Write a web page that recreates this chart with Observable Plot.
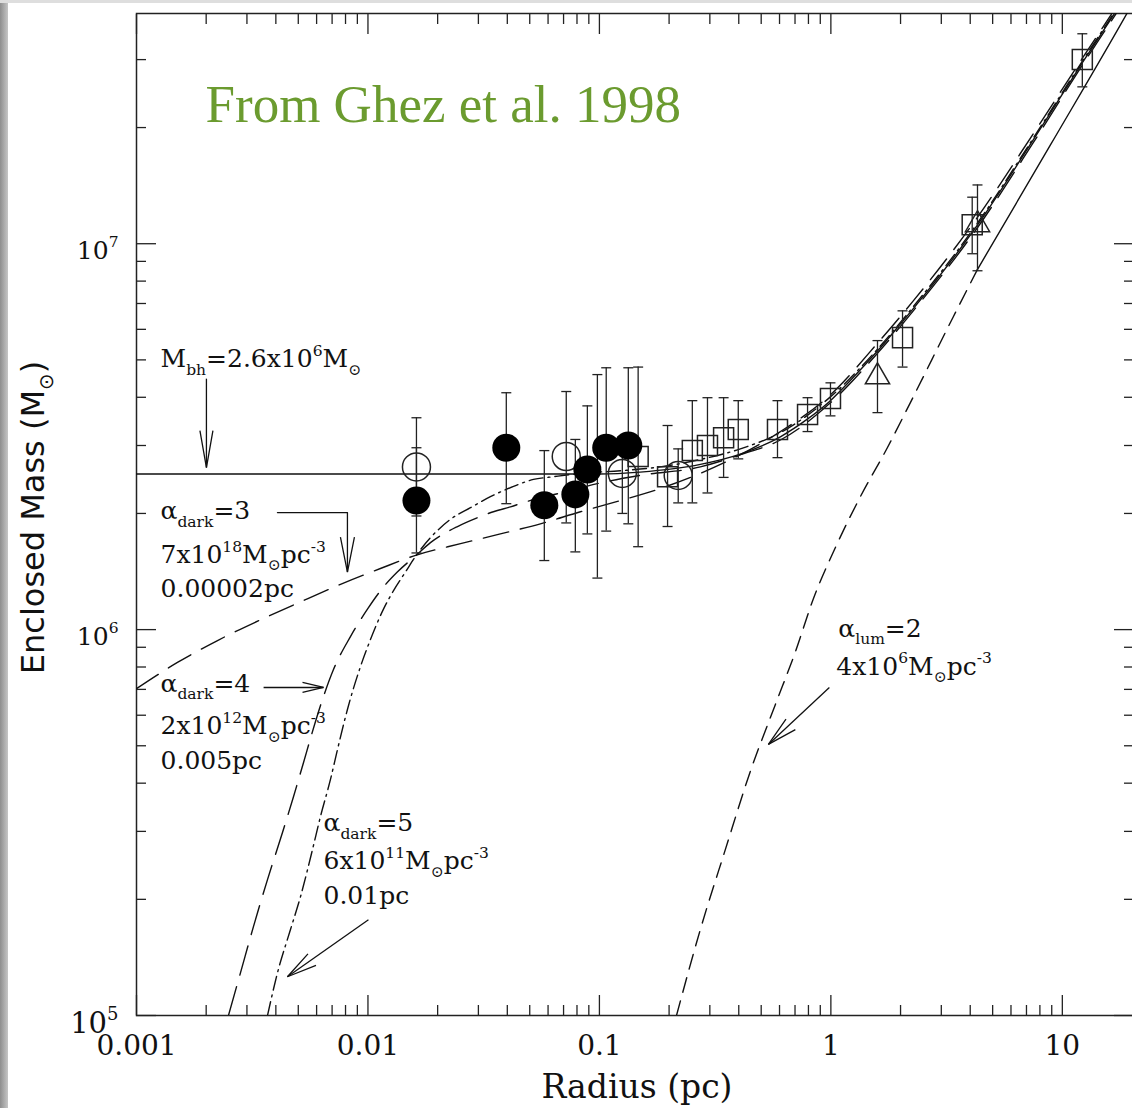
<!DOCTYPE html>
<html><head><meta charset="utf-8">
<script src="https://cdn.jsdelivr.net/npm/d3@7"></script>
<script src="https://cdn.jsdelivr.net/npm/@observablehq/plot@0.6"></script>
<style>
html,body{margin:0;padding:0;background:#fff;overflow:hidden;}
#wrap{position:relative;width:1132px;height:1108px;overflow:hidden;background:#fff;}
#edgeL{position:absolute;left:0;top:0;width:8px;height:1108px;background:linear-gradient(to right,#8e8e8e,#c6c6c6);}
#edgeT{position:absolute;left:0;top:0;width:1132px;height:3px;background:#dedede;}
</style></head><body><div id="wrap"><div id="edgeL"></div><div id="edgeT"></div></div>
<script>
// ---------- data: measurements (radius pc, enclosed mass Msun, error bar low/high) ----------
const filledR  = [0.0162, 0.0396, 0.0578, 0.0787, 0.0887, 0.107, 0.1333];
const filledM  = [2.16e6, 2.96e6, 2.10e6, 2.24e6, 2.60e6, 2.96e6, 3.00e6];
const filledLo = [1.58e6, 2.12e6, 1.51e6, 1.59e6, 1.77e6, 1.80e6, 1.88e6];
const filledHi = [2.96e6, 4.11e6, 2.91e6, 3.11e6, 3.80e6, 4.77e6, 4.77e6];

const openR  = [0.0162, 0.0719, 0.1256, 0.219];
const openM  = [2.64e6, 2.81e6, 2.54e6, 2.51e6];
const openLo = [1.97e6, 1.89e6, 2.00e6, 2.13e6];
const openHi = [3.54e6, 4.14e6, 3.16e6, 2.94e6];

const squareR  = [0.147, 0.197, 0.252, 0.293, 0.344, 0.398, 0.588, 0.793, 0.996, 2.04, 4.08, 12.2];
const squareM  = [2.81e6, 2.49e6, 2.91e6, 3.00e6, 3.14e6, 3.30e6, 3.30e6, 3.61e6, 3.97e6, 5.71e6, 1.12e7, 3.0e7];
const squareLo = [1.64e6, 1.85e6, 2.13e6, 2.26e6, 2.48e6, 2.77e6, 2.79e6, 3.26e6, 3.58e6, 4.79e6, 9.42e6, 2.55e7];
const squareHi = [4.79e6, 3.38e6, 3.92e6, 3.99e6, 3.99e6, 3.92e6, 3.92e6, 3.99e6, 4.36e6, 6.70e6, 1.32e7, 3.50e7];

const triR  = [1.59, 4.30];
const triM  = [4.52e6, 1.12e7];
const triLo = [3.65e6, 8.51e6];
const triHi = [5.61e6, 1.42e7];

// error bar whose symbol is hidden behind the filled circles
const hiddenR  = [0.098];
const hiddenLo = [1.36e6];
const hiddenHi = [4.58e6];

// ---------- data: model curves ----------
const bhR = [0.001, 0.1, 0.15, 0.273, 0.406, 0.605, 0.791, 0.995, 1.213, 1.589, 1.995, 2.27, 4.295, 7.5, 12.19, 17.46, 21.7];
const bhM = [2.53e6, 2.53e6, 2.56e6, 2.68e6, 2.85e6, 3.16e6, 3.51e6, 3.92e6, 4.42e6, 5.27e6, 6.19e6, 6.79e6, 1.117e7, 1.86e7, 2.94e7, 4.09e7, 5.01e7];

const d3R = [0.001, 0.001503, 0.002239, 0.003433, 0.005109, 0.007609, 0.01132, 0.0162, 0.02512, 0.03733, 0.05559, 0.08279, 0.1233, 0.1832, 0.2729, 0.4064, 0.6053, 0.9954, 1.589, 2.27, 4.295, 7.5, 12.19, 17.46, 21.7];
const d3M = [7.03e5, 8.22e5, 9.37e5, 1.06e6, 1.18e6, 1.31e6, 1.44e6, 1.56e6, 1.67e6, 1.77e6, 1.88e6, 2.02e6, 2.16e6, 2.32e6, 2.54e6, 2.84e6, 3.26e6, 4.06e6, 5.52e6, 7.11e6, 1.17e7, 1.93e7, 3.02e7, 4.19e7, 5.13e7];

const d4R = [0.002496, 0.002813, 0.003201, 0.003681, 0.004273, 0.004767, 0.005265, 0.005758, 0.006361, 0.007096, 0.008401, 0.00995, 0.01167, 0.01339, 0.0162, 0.01862, 0.02438, 0.02972, 0.03483, 0.0413, 0.04887, 0.06792, 0.09795, 0.1503, 0.2729, 0.4064, 0.6053, 0.9954, 1.589, 2.27, 4.295, 7.5, 12.19, 17.46, 21.7];
const d4M = [1.0e5, 1.29e5, 1.70e5, 2.25e5, 2.98e5, 3.69e5, 4.52e5, 5.44e5, 6.59e5, 7.88e5, 9.59e5, 1.13e6, 1.29e6, 1.41e6, 1.56e6, 1.68e6, 1.85e6, 1.95e6, 2.02e6, 2.08e6, 2.15e6, 2.26e6, 2.39e6, 2.51e6, 2.64e6, 2.84e6, 3.10e6, 3.87e6, 5.20e6, 6.70e6, 1.10e7, 1.83e7, 2.90e7, 4.03e7, 4.94e7];

const d5R = [0.003681, 0.004065, 0.004627, 0.005109, 0.005758, 0.006236, 0.006887, 0.007385, 0.008153, 0.009282, 0.01025, 0.01167, 0.01288, 0.01452, 0.0162, 0.01862, 0.0227, 0.02773, 0.03381, 0.04256, 0.05188, 0.06324, 0.08279, 0.1233, 0.1832, 0.2729, 0.4064, 0.6053, 0.9954, 1.589, 2.27, 4.295, 7.5, 12.19, 17.46, 21.7];
const d5M = [1.0e5, 1.29e5, 1.67e5, 2.03e5, 2.69e5, 3.28e5, 4.09e5, 4.89e5, 6.21e5, 8.02e5, 9.42e5, 1.13e6, 1.26e6, 1.41e6, 1.56e6, 1.73e6, 1.93e6, 2.07e6, 2.21e6, 2.35e6, 2.45e6, 2.49e6, 2.54e6, 2.58e6, 2.64e6, 2.76e6, 2.94e6, 3.24e6, 4.01e6, 5.33e6, 6.87e6, 1.13e7, 1.88e7, 2.97e7, 4.13e7, 5.06e7];

const lumR = [0.2153, 0.2729, 0.3499, 0.4487, 0.5754, 0.7031, 0.8395, 1.045, 1.341, 1.754, 2.203, 3.381, 4.295];
const lumM = [1.0e5, 1.67e5, 2.69e5, 4.29e5, 6.39e5, 8.77e5, 1.20e6, 1.63e6, 2.21e6, 2.96e6, 3.87e6, 6.47e6, 8.57e6];
const lumTopR = [4.295, 8.872, 19.1, 21.7];
const lumTopM = [8.57e6, 1.80e7, 3.97e7, 4.55e7];

// ---------- ticks ----------
const xMajorTicks = [0.001, 0.01, 0.1, 1, 10];
const xTickLabels = ["0.001", "0.01", "0.1", "1", "10"];
const yMajorTicks = [1e5, 1e6, 1e7];
const yTickLabels = ["10^{5}", "10^{6}", "10^{7}"];
const xMinorTicks = [];
for (const d of xMajorTicks) for (let k = 2; k <= 9; k++) if (k * d < 19) xMinorTicks.push(+(k * d).toPrecision(3));
const yMinorTicks = [];
for (const d of yMajorTicks) for (let k = 2; k <= 9; k++) if (k * d < 3.9e7) yMinorTicks.push(k * d);

// ---------- annotations ----------
const annotR = [0.00127, 0.00127, 0.00127, 0.00127, 0.00127, 0.00127, 0.00127, 0.006427, 0.006427, 0.006427, 1.077, 1.056];
const annotM = [4.78e6, 1.93e6, 1.49e6, 1.218e6, 6.90e5, 5.35e5, 4.34e5, 3.00e5, 2.39e5, 1.94e5, 9.59e5, 7.64e5];
const annotText = ["M_{bh}=2.6x10^{6}M_{⊙}", "α_{dark}=3", "7x10^{18}M_{⊙}pc^{-3}", "0.00002pc",
  "α_{dark}=4", "2x10^{12}M_{⊙}pc^{-3}", "0.005pc",
  "α_{dark}=5", "6x10^{11}M_{⊙}pc^{-3}", "0.01pc",
  "α_{lum}=2", "4x10^{6}M_{⊙}pc^{-3}"];
const arrowFromR = [0.002005, 0.008153, 0.003541, 0.01005, 0.985];
const arrowFromM = [4.47e6, 2.01e6, 7.08e5, 1.77e5, 7.08e5];
const arrowToR   = [0.002005, 0.008153, 0.006427, 0.004487, 0.537];
const arrowToM   = [2.63e6, 1.41e6, 7.08e5, 1.26e5, 5.04e5];
const arrowHead  = [[37, 6.5, 0], [35, 7, 0], [21, 5, -90], [30, 7, 55], [30, 7, 48]]; // length, half-width, rotation
const elbowR = [0.004064, 0.008153];
const elbowM = [2.01e6, 2.01e6];
const creditText = "From Ghez et al. 1998";
const creditR = 0.001987, creditM = 2.07e7;

// ---------- build tables ----------
const zip = (R, M) => R.map((r, i) => ({r, m: M[i]}));
const bars = (R, Lo, Hi) => R.map((r, i) => ({r, lo: Lo[i], hi: Hi[i]}));
const allBars = [
  ...bars(filledR, filledLo, filledHi), ...bars(openR, openLo, openHi),
  ...bars(squareR, squareLo, squareHi), ...bars(triR, triLo, triHi),
  ...bars(hiddenR, hiddenLo, hiddenHi)
];
const annots = annotR.map((r, i) => ({r, m: annotM[i], t: annotText[i]}));
const arrows = arrowFromR.map((r, i) => ({x1: r, y1: arrowFromM[i], x2: arrowToR[i], y2: arrowToM[i]}));

const ink = "#111";
const capSym = {draw(ctx, size) { const w = Math.sqrt(size / Math.PI); ctx.moveTo(-w, 0); ctx.lineTo(w, 0); }};
function vHead(len, half, rot) {
  const a = rot * Math.PI / 180, c = Math.cos(a), s = Math.sin(a);
  const P = (x, y) => [x * c - y * s, x * s + y * c];
  return {draw(ctx) { const p1 = P(-half, -len), p2 = P(half, -len); ctx.moveTo(p1[0], p1[1]); ctx.lineTo(0, 0); ctx.lineTo(p2[0], p2[1]); }};
}
const lineOpts = (dash) => ({x: "r", y: "m", stroke: ink, strokeWidth: 1.4, strokeDasharray: dash, curve: "monotone-x", clip: true});
const tickOpts = {stroke: "#222", strokeWidth: 1.3, tickFormat: () => "", label: null};

const chart = Plot.plot({
  width: 1136, height: 1108,
  marginLeft: 136, marginRight: 3, marginTop: 13, marginBottom: 93,
  x: {type: "log", domain: [0.001, 20.3], label: null},
  y: {type: "log", domain: [1e5, 3.95e7], label: null},
  style: {background: "transparent", fontFamily: "DejaVu Serif", color: ink, overflow: "visible", maxWidth: "none"},
  marks: [
    Plot.frame({stroke: "#222", strokeWidth: 1.5}),
    Plot.axisX({anchor: "bottom", ticks: xMajorTicks, tickSize: -20, ...tickOpts}),
    Plot.axisX({anchor: "bottom", ticks: xMinorTicks, tickSize: -10, ...tickOpts}),
    Plot.axisX({anchor: "top", ticks: xMajorTicks, tickSize: -20, ...tickOpts}),
    Plot.axisX({anchor: "top", ticks: xMinorTicks, tickSize: -10, ...tickOpts}),
    Plot.axisY({anchor: "left", ticks: yMajorTicks, tickSize: -20, ...tickOpts}),
    Plot.axisY({anchor: "left", ticks: yMinorTicks, tickSize: -10, ...tickOpts}),
    Plot.axisY({anchor: "right", ticks: yMajorTicks, tickSize: -20, ...tickOpts}),
    Plot.axisY({anchor: "right", ticks: yMinorTicks, tickSize: -10, ...tickOpts}),
    Plot.axisX({anchor: "bottom", ticks: xMajorTicks, tickSize: 0, tickPadding: 20, label: null,
      tickFormat: d => xTickLabels[xMajorTicks.indexOf(d)] ?? "", fontSize: 28, fontFamily: "DejaVu Serif", fill: ink}),
    Plot.axisY({anchor: "left", ticks: yMajorTicks.slice(1), tickSize: 0, tickPadding: 18, label: null, dy: 7,
      tickFormat: d => yTickLabels[yMajorTicks.indexOf(d)] ?? "", fontSize: 25, fontFamily: "DejaVu Serif", fill: ink}),
    Plot.axisY({anchor: "left", ticks: yMajorTicks.slice(0, 1), tickSize: 0, tickPadding: 18, label: null, dy: 8,
      tickFormat: d => yTickLabels[yMajorTicks.indexOf(d)] ?? "", fontSize: 29, fontFamily: "DejaVu Serif", fill: ink}),
    Plot.text(["Radius (pc)"], {text: d => d, frameAnchor: "bottom", textAnchor: "middle", dx: 2, dy: 82, lineAnchor: "bottom",
      fontSize: 33, fontFamily: "DejaVu Serif", fill: ink}),
    Plot.text(["Enclosed Mass (M_{⊙})"], {text: d => d, frameAnchor: "left", textAnchor: "middle", dx: -103, dy: 3, rotate: -90,
      lineAnchor: "middle", fontSize: 32, fontFamily: "DejaVu Sans", fill: ink}),

    // model curves
    Plot.line(zip(bhR, bhM), lineOpts(null)),
    Plot.line(zip(d3R, d3M), lineOpts("26,12")),
    Plot.line(zip(d4R, d4M), lineOpts("30,12")),
    Plot.line(zip(d5R, d5M), lineOpts("14,5,2,5")),
    Plot.line(zip(lumR, lumM), lineOpts("15,9")),
    Plot.line(zip(lumTopR, lumTopM), lineOpts(null)),

    // error bars
    Plot.ruleX(allBars, {x: "r", y1: "lo", y2: "hi", stroke: "#222", strokeWidth: 1.3}),
    Plot.dot(allBars, {x: "r", y: "lo", symbol: capSym, r: 5, stroke: "#222", fill: "none", strokeWidth: 1.3}),
    Plot.dot(allBars, {x: "r", y: "hi", symbol: capSym, r: 5, stroke: "#222", fill: "none", strokeWidth: 1.3}),

    // symbols
    Plot.dot(zip(openR, openM), {x: "r", y: "m", r: 14, fill: "none", stroke: "#222", strokeWidth: 1.5}),
    Plot.dot(zip(squareR, squareM), {x: "r", y: "m", symbol: "square", r: 11.3, fill: "none", stroke: "#222", strokeWidth: 1.5}),
    Plot.dot(zip(triR, triM), {x: "r", y: "m", symbol: "triangle", r: 9, fill: "none", stroke: "#222", strokeWidth: 1.5}),
    Plot.dot(zip(filledR, filledM), {x: "r", y: "m", r: 14, fill: "#000", stroke: "none"}),

    // annotation arrows
    Plot.line(zip(elbowR, elbowM), {x: "r", y: "m", stroke: ink, strokeWidth: 1.3}),
    Plot.link(arrows, {x1: "x1", y1: "y1", x2: "x2", y2: "y2", stroke: ink, strokeWidth: 1.3}),
    ...arrows.map((a, i) => Plot.dot([a], {x: "x2", y: "y2", r: 1, symbol: vHead(...arrowHead[i]), fill: "none", stroke: ink, strokeWidth: 1.3})),

    // annotation texts
    Plot.text(annots, {x: "r", y: "m", text: "t", textAnchor: "start", lineAnchor: "bottom", fontSize: 25, fontFamily: "DejaVu Serif", fill: ink}),
    Plot.text([creditText], {text: d => d, x: () => creditR, y: () => creditM, textAnchor: "start", lineAnchor: "bottom",
      fontSize: 53, fontFamily: "Liberation Serif", fill: "#6b9b2f"})
  ]
});

const wrap = document.getElementById("wrap");
chart.style.position = "absolute"; chart.style.left = "0"; chart.style.top = "0"; chart.style.maxWidth = "none";
chart.setAttribute("width", 1136); chart.setAttribute("height", 1108);
wrap.insertBefore(chart, wrap.firstChild);

// render _{..} and ^{..} as real sub/superscript tspans
function richify(el) {
  const s = el.textContent;
  if (!/[_^]\{/.test(s)) return;
  const fs = parseFloat(getComputedStyle(el).fontSize) || 16;
  const parts = s.split(/([_^]\{[^}]*\})/).filter(p => p.length);
  while (el.firstChild) el.removeChild(el.firstChild);
  let cur = 0;
  for (const p of parts) {
    let txt = p, shift = 0, size = null;
    if (p.startsWith("_{")) { txt = p.slice(2, -1); shift = 0.3 * fs; size = 0.62 * fs; }
    else if (p.startsWith("^{")) { txt = p.slice(2, -1); shift = -0.45 * fs; size = 0.62 * fs; }
    const t = document.createElementNS("http://www.w3.org/2000/svg", "tspan");
    if (shift - cur) t.setAttribute("dy", (shift - cur).toFixed(2));
    if (size) t.setAttribute("font-size", size.toFixed(2));
    t.textContent = txt;
    el.appendChild(t);
    cur = shift;
  }
}
chart.querySelectorAll("text").forEach(richify);
</script></body></html>
